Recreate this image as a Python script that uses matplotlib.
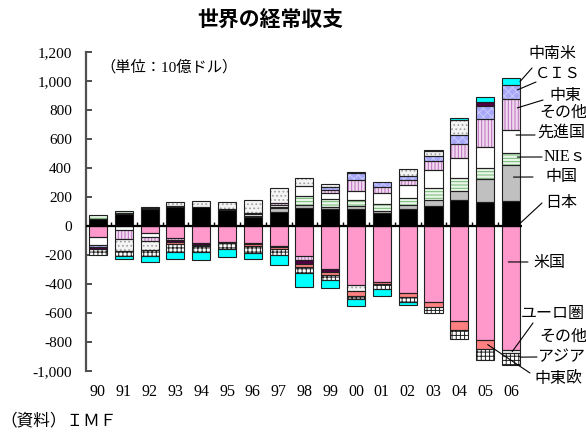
import numpy as np
import matplotlib
matplotlib.use('Agg')
import matplotlib.pyplot as plt

plt.rcParams['font.family'] = ['Noto Sans CJK JP', 'DejaVu Sans']
plt.rcParams['hatch.linewidth'] = 0.7

# values in 10億ドル, 1990-2006
years = ['90', '91', '92', '93', '94', '95', '96', '97', '98', '99',
         '00', '01', '02', '03', '04', '05', '06']
us = [-76, 3, -46, -82, -120, -110, -120, -138, -208, -299, -410, -385, -463, -522, -658, -787, -855]
japan = [45, 78, 118, 133, 133, 110, 62, 95, 122, 115, 118, 88, 115, 136, 178, 165, 175]
china = [0, 10, 6, 0, 0, 0, 8, 30, 23, 15, 20, 17, 30, 42, 65, 160, 246]
nies = [30, 14, 8, 5, 0, 0, 0, 5, 62, 55, 40, 45, 50, 82, 85, 78, 84]
other_adv = [-55, -28, -30, 0, 0, 10, 10, 15, 69, 46, 65, 80, 90, 128, 138, 143, 157]
mideast = [0, -64, -27, -15, 0, 0, 12, 12, -27, 16, 72, 40, 30, 60, 99, 195, 212]
cis = [-11, 0, 0, 0, 0, 0, 0, 0, 0, 23, 53, 35, 28, 32, 60, 88, 99]
euro = [0, -78, -65, 28, 38, 46, 85, 103, 53, 23, -40, 0, 47, 35, 103, 0, -23]
africa = [-18, 0, 0, -15, -12, -10, -5, -5, -27, -16, 7, 0, 0, 0, 0, 28, 0]
cee = [0, 0, 0, -13, -5, 0, -13, -17, -18, -23, -33, -17, -27, -38, -58, -62, 0]
other_asia = [-40, -40, -37, -52, -40, -42, -45, -40, -47, -34, -20, -30, -37, -42, -66, -76, -80]
latam = [0, -18, -40, -48, -58, -52, -47, -70, -92, -58, -48, -52, -16, 8, 20, 30, 45]

# stacking order (positive upward / negative downward from zero)
order = [
    ('米国', us), ('日本', japan), ('中国', china), ('NIEs', nies),
    ('その他先進国', other_adv), ('中東', mideast), ('CIS', cis),
    ('ユーロ圏', euro), ('アフリカ', africa), ('中東欧', cee),
    ('その他アジア', other_asia), ('中南米', latam),
]

# face colour, hatch, hatch colour
styles = {
    '米国': ('#ff99cc', None, None),
    '日本': ('black', None, None),
    '中国': ('#c0c0c0', None, None),
    'NIEs': ('#eaf6ea', '-----', '#70b870'),
    'その他先進国': ('white', None, None),
    '中東': ('#f0d8f0', '|||||', '#bb70bb'),
    'CIS': ('#a8a8f8', 'xxxx', '#cacaff'),
    'ユーロ圏': ('#f4f4f4', '....', '#a0a0a0'),
    'アフリカ': ('#520040', None, None),
    '中東欧': ('#ff8080', None, None),
    'その他アジア': ('white', '++++', '#202020'),
    '中南米': ('#00ffff', None, None),
}

x = np.arange(len(years))
width = 0.7

fig = plt.figure(figsize=(5.86, 4.34), dpi=100)
ax = fig.add_axes([86 / 586, 1 - 371 / 434, (522 - 86) / 586, (371 - 52) / 434])

pos_base = np.zeros(len(years))
neg_base = np.zeros(len(years))
segments = {}
for name, vals in order:
    v = np.array(vals, dtype=float)
    bottom = np.where(v >= 0, pos_base, neg_base)
    segments[name] = (bottom.copy(), v)
    face, hatch, hcol = styles[name]
    m = v != 0
    ax.bar(x[m], v[m], bottom=bottom[m], width=width, color=face,
           hatch=hatch, edgecolor=hcol if hcol else face, linewidth=0, zorder=2)
    ax.bar(x[m], v[m], bottom=bottom[m], width=width, fill=False,
           edgecolor='#202020', linewidth=0.8, zorder=3)
    pos_base += np.where(v > 0, v, 0)
    neg_base += np.where(v < 0, v, 0)

ax.set_xlim(-0.465, 16.43)
ax.set_ylim(-1000, 1200)

# zero line with small ticks between bars
ax.axhline(0, color='black', lw=1.6, zorder=4)
ax.vlines(x + 0.5, 0, 28, color='black', lw=1.0, zorder=4)

for s in ['top', 'right', 'bottom']:
    ax.spines[s].set_visible(False)
ax.spines['left'].set_color('#505050')
ax.spines['left'].set_linewidth(1.6)

yt = np.arange(-1000, 1201, 200)
ax.set_yticks(yt)
ax.set_yticklabels([f'{v:,}' for v in yt], family='Liberation Serif', fontsize=11)
ax.tick_params(axis='y', direction='in', length=4, width=1.2, color='#303030', pad=10)
ax.set_xticks(x)
ax.set_xticklabels(years, family='Liberation Serif', fontsize=11.5)
ax.tick_params(axis='x', length=0, pad=9)

fig.text(270 / 586, 1 - 20 / 434, '世界の経常収支', ha='center', va='center',
         fontsize=15, fontweight='bold')
fig.text(100 / 586, 1 - 67 / 434, '（単位：10億ドル）', ha='left', va='center',
         fontsize=11, family=['Liberation Serif', 'Noto Sans CJK JP'])
fig.text(0, 1 - 421 / 434, '（資料）ＩＭＦ', ha='left', va='center', fontsize=12)

# leader labels: (series, year index, x offset, fraction in segment,
#                 line end px, text lines with px positions, font size)
labels = [
    ('中南米', 16, 0.35, 0.5, (532, 68), [('中南米', 528, 54)], 11.5),
    ('CIS', 16, 0.25, 0.65, (536, 82), [('ＣＩＳ', 535, 74)], 11),
    ('中東', 16, 0.25, 0.72, (543, 100), [('中東', 549, 96)], 11.5),
    ('その他先進国', 16, 0.2, 0.78, (535, 135), [('その他', 539, 113), ('先進国', 537, 133)], 11.5),
    ('NIEs', 16, 0.25, 0.65, (542, 157), [('NIEｓ', 544, 157)], 11.5),
    ('中国', 16, 0.1, 0.66, (533, 177), [('中国', 545, 177)], 11.5),
    ('日本', 16, 0.35, 0.1, (542, 203), [('日本', 545, 203)], 11.5),
    ('米国', 16, -0.1, 0.29, (528, 262), [('米国', 533, 263)], 11.5),
    ('ユーロ圏', 16, 0.05, 0.5, (533, 323), [('ユーロ圏', 521, 314)], 11.5),
    ('その他アジア', 16, 0.35, 0.33, (537, 357), [('その他', 539, 337), ('アジア', 537, 357)], 11.5),
    ('中東欧', 15, 0.1, 0.5, (530, 373), [('中東欧', 534, 379)], 11.5),
]
for name, i, dx, frac, end, texts, fs in labels:
    bottom, v = segments[name]
    y = bottom[i] + frac * v[i]
    ax.annotate('', xy=(x[i] + dx, y), xytext=(end[0], 434 - end[1]),
                textcoords='figure pixels', annotation_clip=False,
                arrowprops=dict(arrowstyle='-', lw=0.8, color='black',
                                shrinkA=0, shrinkB=0), zorder=5)
    for t, tx, ty in texts:
        fig.text(tx / 586, 1 - ty / 434, t, ha='left', va='center', fontsize=fs,
                 family=['Liberation Serif', 'Noto Sans CJK JP'])

fig.savefig('out.png', dpi=100)
